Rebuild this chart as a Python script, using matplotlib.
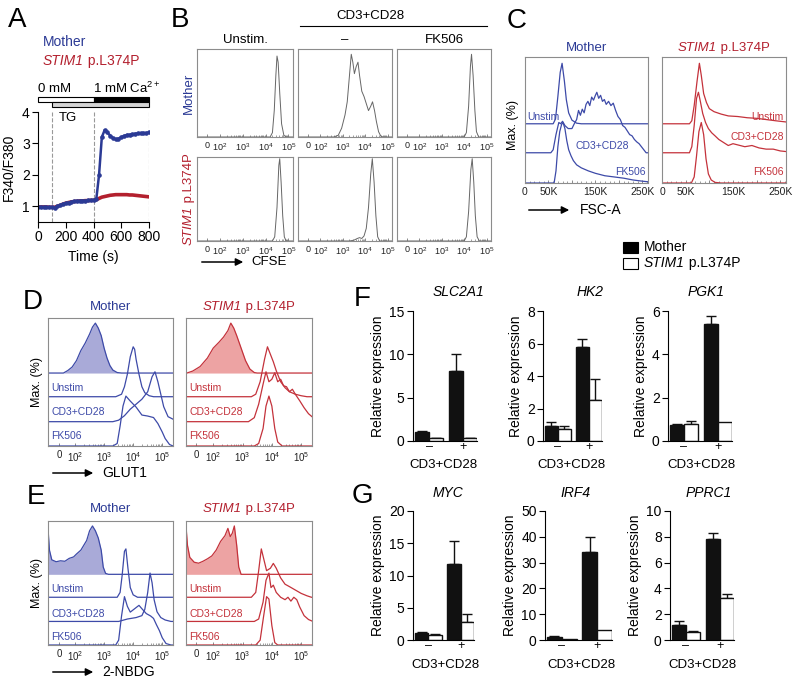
import numpy as np
import matplotlib
matplotlib.use("Agg")
import matplotlib.pyplot as plt
from matplotlib.patches import Rectangle, FancyArrowPatch
from matplotlib.lines import Line2D

plt.rcParams['font.family'] = ['Liberation Sans', 'DejaVu Sans']
plt.rcParams['mathtext.fontset'] = 'custom'
plt.rcParams['mathtext.rm'] = 'Liberation Sans'
plt.rcParams['mathtext.it'] = 'Liberation Sans:italic'
plt.rcParams['mathtext.bf'] = 'Liberation Sans:bold'

# ---------------- data ----------------
# A: Fura-2 ratio over time
time_s = np.arange(0, 801, 20)
ratio_mother = [0.98, 0.98, 0.97, 0.97, 0.97, 0.97, 0.96, 1.00, 1.04, 1.08, 1.10,
                1.12, 1.14, 1.16, 1.17, 1.17, 1.18, 1.18, 1.19, 1.19, 1.20, 1.22,
                2.00, 3.20, 3.42, 3.35, 3.25, 3.17, 3.13, 3.15, 3.20, 3.24, 3.27,
                3.28, 3.29, 3.31, 3.32, 3.32, 3.33, 3.33, 3.35]
ratio_stim = [0.98, 0.98, 0.98, 0.98, 0.97, 0.97, 0.97, 1.00, 1.03, 1.07, 1.10,
              1.12, 1.14, 1.15, 1.16, 1.17, 1.17, 1.18, 1.18, 1.19, 1.19, 1.21,
              1.25, 1.29, 1.31, 1.33, 1.35, 1.36, 1.37, 1.37, 1.37, 1.37, 1.37,
              1.36, 1.36, 1.35, 1.34, 1.33, 1.32, 1.31, 1.30]
ca_switch = 400        # 0 mM -> 1 mM Ca2+
tg_start = 100
dashed_times = [100, 400, 800]

# B: CFSE histograms (x in log decades, y = fraction of max)
cfse_mother_unstim = [(4.2, 0), (4.3, 0.05), (4.38, 0.3), (4.45, 0.7), (4.5, 0.92), (4.55, 0.85),
                      (4.62, 0.5), (4.7, 0.15), (4.8, 0.02), (4.9, 0)]
cfse_mother_stim = [(2.6, 0), (2.8, 0.02), (2.95, 0.1), (3.1, 0.25), (3.2, 0.4), (3.3, 0.7),
                    (3.38, 0.94), (3.45, 0.85), (3.52, 0.72), (3.6, 0.8), (3.68, 0.85),
                    (3.75, 0.7), (3.85, 0.52), (3.95, 0.46), (4.05, 0.38), (4.15, 0.3),
                    (4.25, 0.35), (4.33, 0.4), (4.42, 0.3), (4.5, 0.18), (4.6, 0.06),
                    (4.7, 0.01), (4.8, 0)]
cfse_mother_fk = [(4.0, 0), (4.1, 0.05), (4.2, 0.35), (4.28, 0.8), (4.33, 0.94), (4.4, 0.7),
                  (4.48, 0.3), (4.55, 0.06), (4.65, 0)]
cfse_stim_unstim = [(4.3, 0), (4.4, 0.05), (4.5, 0.4), (4.58, 0.9), (4.62, 0.98), (4.68, 0.7),
                    (4.75, 0.3), (4.82, 0.05), (4.9, 0)]
cfse_stim_stim = [(3.3, 0), (3.5, 0.01), (3.65, 0.03), (3.75, 0.04), (3.85, 0.03), (3.95, 0.06),
                  (4.05, 0.15), (4.15, 0.4), (4.25, 0.8), (4.32, 0.98), (4.4, 0.7),
                  (4.48, 0.3), (4.56, 0.05), (4.65, 0)]
cfse_stim_fk = [(4.0, 0), (4.1, 0.05), (4.2, 0.35), (4.3, 0.85), (4.36, 0.98), (4.43, 0.7),
                (4.5, 0.3), (4.58, 0.05), (4.68, 0)]

# C: FSC-A histograms (x in thousands)
fsc_mother_unstim = [(60, 0), (65, 0.08), (70, 0.45), (75, 0.85), (79, 1.0), (84, 0.7),
                     (88, 0.4), (93, 0.18), (100, 0.06), (110, 0.01), (120, 0)]
fsc_mother_stim = [(55, 0), (60, 0.05), (66, 0.3), (72, 0.5), (76, 0.48), (80, 0.52), (85, 0.45),
                   (92, 0.4), (100, 0.4), (105, 0.48), (110, 0.55), (114, 0.7), (118, 0.62),
                   (122, 0.72), (126, 0.66), (130, 0.8), (134, 0.85), (138, 0.78), (142, 0.92),
                   (146, 0.87), (150, 0.95), (153, 1.0), (157, 0.9), (161, 0.95), (165, 0.85),
                   (169, 0.88), (173, 0.8), (178, 0.85), (183, 0.78), (188, 0.82), (193, 0.7),
                   (198, 0.6), (203, 0.55), (208, 0.45), (213, 0.42), (218, 0.36), (223, 0.3),
                   (228, 0.28), (233, 0.22), (238, 0.18), (243, 0.15), (248, 0.1),
                   (253, 0.05), (258, 0)]
fsc_mother_fk = [(62, 0), (66, 0.2), (70, 0.6), (74, 0.85), (78, 0.97), (81, 1.0), (85, 0.9),
                 (89, 0.7), (93, 0.55), (98, 0.45), (103, 0.37), (110, 0.3), (120, 0.25),
                 (135, 0.2), (150, 0.16), (170, 0.12), (190, 0.1), (210, 0.08), (230, 0.05),
                 (250, 0.03), (262, 0.02)]
fsc_stim_unstim = [(58, 0), (63, 0.05), (68, 0.3), (74, 0.7), (79, 1.0), (83, 0.8), (88, 0.5),
                   (94, 0.35), (100, 0.25), (110, 0.2), (125, 0.16), (140, 0.13), (160, 0.12),
                   (180, 0.1), (200, 0.09), (220, 0.07), (240, 0.05), (262, 0.03)]
fsc_stim_stim = [(58, 0), (63, 0.1), (68, 0.45), (73, 0.9), (77, 1.0), (81, 0.85), (86, 0.65),
                 (92, 0.5), (98, 0.4), (105, 0.33), (112, 0.28), (120, 0.22), (130, 0.17),
                 (140, 0.12), (150, 0.15), (160, 0.13), (175, 0.1), (190, 0.12), (205, 0.08),
                 (220, 0.06), (235, 0.06), (250, 0.03), (262, 0.02)]
fsc_stim_fk = [(62, 0), (68, 0.1), (73, 0.45), (78, 0.85), (83, 1.0), (88, 0.8), (93, 0.4),
               (98, 0.15), (104, 0.05), (112, 0.01), (125, 0)]

# D: GLUT1 histograms (x in log decades)
glut_mother_iso = [(1.6, 0), (1.75, 0.05), (1.9, 0.12), (2.05, 0.25), (2.2, 0.45), (2.35, 0.6),
                   (2.5, 0.78), (2.6, 0.92), (2.7, 1.0), (2.8, 0.9), (2.9, 0.75), (3.0, 0.5),
                   (3.1, 0.3), (3.2, 0.15), (3.3, 0.06), (3.45, 0.01), (3.6, 0)]
glut_mother_unstim = [(3.4, 0), (3.6, 0.05), (3.7, 0.2), (3.8, 0.45), (3.9, 0.8), (4.0, 1.0),
                      (4.05, 0.95), (4.1, 0.75), (4.2, 0.45), (4.3, 0.2), (4.4, 0.08),
                      (4.55, 0.02), (4.7, 0)]
glut_mother_stim = [(3.3, 0), (3.5, 0.03), (3.7, 0.12), (3.9, 0.25), (4.1, 0.35), (4.3, 0.45),
                    (4.5, 0.6), (4.65, 0.9), (4.75, 1.0), (4.85, 0.8), (4.95, 0.55),
                    (5.05, 0.3), (5.2, 0.1), (5.37, 0.05)]
glut_mother_fk = [(3.3, 0), (3.45, 0.05), (3.55, 0.4), (3.65, 0.8), (3.75, 1.0), (3.9, 0.9),
                  (4.1, 0.78), (4.3, 0.62), (4.5, 0.6), (4.7, 0.57), (4.85, 0.45), (5.0, 0.28),
                  (5.1, 0.15), (5.25, 0.03), (5.37, 0)]
glut_stim_iso = [(1.1, 0), (1.3, 0.04), (1.55, 0.13), (1.8, 0.3), (2.0, 0.5), (2.2, 0.62),
                 (2.35, 0.72), (2.5, 0.85), (2.6, 1.0), (2.7, 0.9), (2.8, 0.75), (2.95, 0.5),
                 (3.1, 0.25), (3.25, 0.08), (3.4, 0.01), (3.5, 0)]
glut_stim_unstim = [(3.3, 0), (3.45, 0.05), (3.6, 0.3), (3.75, 0.75), (3.85, 1.0), (3.95, 0.85),
                    (4.05, 0.7), (4.15, 0.52), (4.3, 0.3), (4.45, 0.18), (4.6, 0.1),
                    (4.8, 0.05), (5.0, 0.02), (5.2, 0)]
glut_stim_stim = [(3.2, 0), (3.4, 0.08), (3.55, 0.35), (3.7, 0.75), (3.8, 1.0), (3.9, 0.8),
                  (4.0, 0.85), (4.1, 0.98), (4.2, 0.8), (4.3, 0.85), (4.4, 0.72), (4.5, 0.7),
                  (4.6, 0.6), (4.7, 0.65), (4.8, 0.55), (4.95, 0.42), (5.1, 0.28),
                  (5.25, 0.16), (5.37, 0.1)]
glut_stim_fk = [(3.4, 0), (3.55, 0.05), (3.7, 0.35), (3.8, 0.8), (3.9, 1.0), (4.0, 0.8),
                (4.1, 0.35), (4.2, 0.08), (4.35, 0)]

# E: 2-NBDG histograms (x in log decades)
nbdg_mother_iso = [(1.07, 0.95), (1.12, 0.5), (1.2, 0.3), (1.35, 0.26), (1.5, 0.28), (1.65, 0.27),
                   (1.8, 0.33), (1.95, 0.36), (2.05, 0.42), (2.2, 0.5), (2.3, 0.6), (2.4, 0.7),
                   (2.5, 0.9), (2.6, 1.0), (2.7, 0.9), (2.8, 0.75), (2.9, 0.5), (2.97, 0.15),
                   (3.05, 0.02), (3.15, 0)]
nbdg_mother_unstim = [(3.45, 0), (3.55, 0.1), (3.62, 0.45), (3.7, 0.95), (3.75, 1.0), (3.82, 0.6),
                      (3.9, 0.2), (4.0, 0.05), (4.15, 0)]
nbdg_mother_stim = [(3.5, 0), (3.8, 0.05), (4.1, 0.08), (4.3, 0.12), (4.4, 0.25), (4.5, 0.6),
                    (4.58, 1.0), (4.65, 0.8), (4.72, 0.45), (4.82, 0.2), (4.95, 0.08),
                    (5.1, 0.03), (5.3, 0)]
nbdg_mother_fk = [(3.4, 0), (3.5, 0.1), (3.6, 0.6), (3.7, 1.0), (3.8, 0.8), (3.9, 0.68),
                  (4.05, 0.75), (4.2, 0.82), (4.3, 0.75), (4.45, 0.65), (4.6, 0.6), (4.7, 0.55),
                  (4.8, 0.42), (4.9, 0.3), (5.0, 0.15), (5.13, 0.03), (5.3, 0)]
nbdg_stim_iso = [(1.07, 1.0), (1.12, 0.6), (1.2, 0.35), (1.35, 0.25), (1.5, 0.23), (1.65, 0.27),
                 (1.8, 0.32), (1.95, 0.38), (2.1, 0.5), (2.25, 0.68), (2.4, 0.8), (2.5, 0.95),
                 (2.58, 0.78), (2.65, 0.85), (2.72, 1.0), (2.8, 0.6), (2.87, 0.15), (2.95, 0)]
nbdg_stim_unstim = [(3.3, 0), (3.45, 0.1), (3.55, 0.55), (3.64, 1.0), (3.72, 0.8), (3.82, 0.55),
                    (3.95, 0.6), (4.05, 0.7), (4.15, 0.6), (4.3, 0.4), (4.45, 0.27), (4.6, 0.22),
                    (4.8, 0.15), (5.0, 0.08), (5.2, 0.03), (5.35, 0)]
nbdg_stim_stim = [(3.4, 0), (3.55, 0.05), (3.7, 0.4), (3.8, 0.85), (3.9, 1.0), (3.97, 0.7),
                  (4.05, 0.75), (4.15, 0.6), (4.3, 0.5), (4.45, 0.45), (4.55, 0.5), (4.65, 0.42),
                  (4.75, 0.5), (4.85, 0.45), (4.95, 0.3), (5.1, 0.12), (5.25, 0.04), (5.4, 0)]
nbdg_stim_fk = [(3.45, 0), (3.6, 0.1), (3.72, 0.6), (3.82, 1.0), (3.9, 0.95), (4.0, 0.4),
                (4.1, 0.05), (4.2, 0)]

# F/G: relative expression, groups = CD3+CD28 (-, +)
groups = ['\u2013', '+']
slc2a1_mother, slc2a1_mother_err = [1.0, 8.1], [0.1, 1.9]
slc2a1_stim, slc2a1_stim_err = [0.35, 0.35], [0.05, 0.05]
hk2_mother, hk2_mother_err = [0.95, 5.8], [0.2, 0.45]
hk2_stim, hk2_stim_err = [0.72, 2.5], [0.2, 1.3]
pgk1_mother, pgk1_mother_err = [0.72, 5.42], [0.05, 0.33]
pgk1_stim, pgk1_stim_err = [0.8, 0.88], [0.12, 0.0]
myc_mother, myc_mother_err = [1.1, 11.8], [0.15, 3.5]
myc_stim, myc_stim_err = [0.75, 2.8], [0.15, 1.3]
irf4_mother, irf4_mother_err = [1.2, 34.0], [0.2, 5.8]
irf4_stim, irf4_stim_err = [0.5, 3.8], [0.0, 0.0]
pprc1_mother, pprc1_mother_err = [1.15, 7.85], [0.35, 0.45]
pprc1_stim, pprc1_stim_err = [0.65, 3.25], [0.07, 0.35]

# ---------------- styling ----------------
W, H = 800, 684
BLUE = '#2b3a95'
RED = '#b3202e'
FBLUE = '#3d4aa8'
FRED = '#c4323b'
FILL_BLUE = '#a9aad8'
FILL_RED = '#eda3a3'
SPINE = '#8c8c8c'

fig = plt.figure(figsize=(W / 100, H / 100), dpi=100)
renderer = fig.canvas.get_renderer()


def rect(x0, y0, x1, y1):
    return [x0 / W, 1 - y1 / H, (x1 - x0) / W, (y1 - y0) / H]


def ftext(x, y, s, **kw):
    kw.setdefault('ha', 'center')
    kw.setdefault('va', 'center')
    return fig.text(x / W, 1 - y / H, s, **kw)


def stim_text(x, y, fs, color, ha='center', vertical=False):
    # italic gene name followed by upright variant, e.g. "STIM1 p.L374P"
    rot = 90 if vertical else 0
    kw = dict(fontsize=fs, color=color, rotation=rot, rotation_mode='anchor',
              ha='left', va='center')
    t1 = fig.text(0, 0, 'STIM1', style='italic', **kw)
    t2 = fig.text(0, 0, ' p.L374P', **kw)
    e1, e2 = t1.get_window_extent(renderer), t2.get_window_extent(renderer)
    if vertical:
        l1, l2 = e1.height, e2.height
    else:
        l1, l2 = e1.width, e2.width
    total = l1 + l2
    start = -total / 2 if ha == 'center' else (-total if ha == 'right' else 0)
    if vertical:
        y0 = (H - y) + start
        t1.set_position((x / W, y0 / H))
        t2.set_position((x / W, (y0 + l1) / H))
    else:
        x0 = x + start
        t1.set_position((x0 / W, 1 - y / H))
        t2.set_position(((x0 + l1) / W, 1 - y / H))


def farrow(x0, x1, y):
    fig.add_artist(FancyArrowPatch((x0 / W, 1 - y / H), (x1 / W, 1 - y / H),
                                   transform=fig.transFigure, arrowstyle='-|>',
                                   mutation_scale=11, lw=1.1, color='k'))


def draw_curve(ax, pts, base, scale, color, xlim, fill=None, lw=0.9):
    x = [p[0] for p in pts]
    y = [p[1] for p in pts]
    if x[0] > xlim[0]:
        x, y = [xlim[0]] + x, [0] + y
    if x[-1] < xlim[1]:
        x, y = x + [xlim[1]], y + [0]
    x = np.array(x)
    y = base + scale * np.array(y)
    if fill is not None:
        ax.fill_between(x, base, y, color=fill, lw=0)
    ax.plot(x, y, color=color, lw=lw)


def flow_axes(r, xlim):
    ax = fig.add_axes(r)
    ax.set_xlim(*xlim)
    ax.set_ylim(0, 1)
    ax.set_yticks([])
    for s in ax.spines.values():
        s.set_color(SPINE)
        s.set_linewidth(0.8)
    ax.tick_params(axis='x', direction='in', length=2.5, width=0.6, color='#777',
                   labelsize=7, pad=3, labelcolor='#222')
    ax.tick_params(axis='x', which='minor', direction='in', length=1.5, width=0.5, color='#777')
    return ax


def log_ticks(ax, zero_pos, fs=7):
    ax.set_xticks([zero_pos, 2, 3, 4, 5])
    ax.set_xticklabels(['0', '10$^2$', '10$^3$', '10$^4$', '10$^5$'], fontsize=fs)
    minors = [d + np.log10(k) for d in (2, 3, 4) for k in range(2, 10)]
    ax.set_xticks(minors, minor=True)


# ---------------- panel letters ----------------
for letter, (x, y) in zip('ABCDEFG', [(17, 20), (180, 20), (517, 21), (33, 302),
                                      (36, 497), (362, 299), (362, 496)]):
    ftext(x, y, letter, fontsize=20)

# ---------------- A ----------------
axA = fig.add_axes(rect(38, 112, 149, 222))
axA.plot(time_s, ratio_stim, color=RED, lw=2.6, solid_capstyle='round')
axA.plot(time_s, ratio_mother, color=BLUE, lw=1.8, marker='o', ms=2.3)
for t in dashed_times:
    axA.axvline(t, color='#999', ls='--', lw=0.8, zorder=0)
axA.set_xlim(0, 800)
axA.set_ylim(0.5, 4)
axA.set_xticks([0, 200, 400, 600, 800])
axA.set_yticks([1, 2, 3, 4])
axA.spines['top'].set_visible(False)
axA.spines['right'].set_visible(False)
axA.tick_params(labelsize=10, length=4, pad=2)
axA.set_ylabel('F340/F380', fontsize=10, labelpad=4)
axA.set_xlabel('Time (s)', fontsize=10, labelpad=4)

axBar = fig.add_axes(rect(38, 97, 149, 107))
axBar.set_xlim(0, 800)
axBar.set_ylim(0, 2)
axBar.axis('off')
axBar.add_patch(Rectangle((0, 1), ca_switch, 1, fc='white', ec='k', lw=0.8, clip_on=False))
axBar.add_patch(Rectangle((ca_switch, 1), 800 - ca_switch, 1, fc='k', ec='k', lw=0.8, clip_on=False))
axBar.add_patch(Rectangle((tg_start, 0), 800 - tg_start, 1, fc='#d4d4d4', ec='k', lw=0.8, clip_on=False))
ftext(38, 89, '0 mM', fontsize=9.5, ha='left')
ftext(93, 88, '1 mM Ca$^{2+}$', fontsize=9.5, ha='left')
ftext(59, 118, 'TG', fontsize=9.5, ha='left')
ftext(43, 42, 'Mother', fontsize=10, ha='left', color=BLUE)
stim_text(43, 61, 10, RED, ha='left')

# ---------------- B ----------------
cfse_xlim = (1.0, 5.2)
b_cols = [(197, 293), (298, 392), (397, 491)]
b_rows = [(49, 137), (157, 241)]
b_curves = [[cfse_mother_unstim, cfse_mother_stim, cfse_mother_fk],
            [cfse_stim_unstim, cfse_stim_stim, cfse_stim_fk]]
for ri, (y0, y1) in enumerate(b_rows):
    for ci, (x0, x1) in enumerate(b_cols):
        ax = flow_axes(rect(x0, y0, x1, y1), cfse_xlim)
        log_ticks(ax, 1.45, fs=6.5)
        draw_curve(ax, b_curves[ri][ci], 0.0, 1.0, '#666', cfse_xlim, lw=0.7)
ftext(245, 40, 'Unstim.', fontsize=9.5)
ftext(345, 40, '\u2013', fontsize=9.5)
ftext(444, 40, 'FK506', fontsize=9.5)
ftext(370, 16, 'CD3+CD28', fontsize=9.5)
fig.add_artist(Line2D([300 / W, 487 / W], [1 - 26 / H, 1 - 26 / H],
                      transform=fig.transFigure, color='k', lw=0.8))
ftext(189, 93, 'Mother', fontsize=9.5, rotation=90, color=BLUE)
stim_text(189, 199, 9.5, RED, vertical=True)
farrow(199, 246, 262)
ftext(251, 262, 'CFSE', fontsize=9.5, ha='left')

# ---------------- C ----------------
fsc_xlim = (0, 262)
c_offsets = [0.47, 0.24, 0.0]
c_scale = 0.48
for (x0, x1), curves, col, is_mother in [
        ((525, 648), [fsc_mother_unstim, fsc_mother_stim, fsc_mother_fk], FBLUE, True),
        ((662, 786), [fsc_stim_unstim, fsc_stim_stim, fsc_stim_fk], FRED, False)]:
    ax = flow_axes(rect(x0, 57, x1, 183), fsc_xlim)
    ax.set_xticks([0, 50, 100, 150, 200, 250])
    ax.set_xticklabels(['0', '50K', '', '150K', '', '250K'], fontsize=7.5)
    ax.set_xticks(np.arange(10, 262, 10), minor=True)
    for pts, off in zip(curves, c_offsets):
        draw_curve(ax, pts, off, c_scale, col, fsc_xlim)
    if is_mother:
        ftext((x0 + x1) / 2, 48, 'Mother', fontsize=9.5, color=BLUE)
    else:
        stim_text((x0 + x1) / 2, 48, 9.5, RED)
ftext(527, 117, 'Unstim', fontsize=7.5, ha='left', color=FBLUE)
ftext(602, 146, 'CD3+CD28', fontsize=7.5, color=FBLUE)
ftext(646, 172, 'FK506', fontsize=7.5, ha='right', color=FBLUE)
ftext(784, 117, 'Unstim', fontsize=7.5, ha='right', color=FRED)
ftext(784, 137, 'CD3+CD28', fontsize=7.5, ha='right', color=FRED)
ftext(784, 172, 'FK506', fontsize=7.5, ha='right', color=FRED)
ftext(513, 125, 'Max. (%)', fontsize=9, rotation=90)
farrow(526, 572, 210)
ftext(580, 210, 'FSC-A', fontsize=10, ha='left')

# legend for F/G
fig.add_artist(Rectangle((623 / W, 1 - 253 / H), 15 / W, 11 / H, transform=fig.transFigure,
                         fc='k', ec='k', lw=0.8))
fig.add_artist(Rectangle((623 / W, 1 - 269 / H), 15 / W, 11 / H, transform=fig.transFigure,
                         fc='white', ec='k', lw=0.8))
ftext(644, 247, 'Mother', fontsize=10, ha='left')
stim_text(644, 263, 10, 'k', ha='left')

# ---------------- D / E ----------------
log_xlim = (1.07, 5.37)
de_offsets = [0.57, 0.385, 0.19, 0.0]
de_scale = 0.39


def flow_pair(y0, y1, title_y, mother_curves, stim_curves, label_ys, xlab, xlab_y):
    for (x0, x1), curves, col, fill, is_mother, lx, zero in [
            ((48, 173), mother_curves, FBLUE, FILL_BLUE, True, 51, 1.45),
            ((186, 312), stim_curves, FRED, FILL_RED, False, 189, 1.42)]:
        ax = flow_axes(rect(x0, y0, x1, y1), log_xlim)
        log_ticks(ax, zero, fs=7)
        for i, (pts, off) in enumerate(zip(curves, de_offsets)):
            draw_curve(ax, pts, off, de_scale, col, log_xlim,
                       fill=fill if i == 0 else None)
        if is_mother:
            ftext((x0 + x1) / 2, title_y, 'Mother', fontsize=9.5, color=BLUE)
        else:
            stim_text((x0 + x1) / 2, title_y, 9.5, RED)
        for lab, ly in zip(['Unstim', 'CD3+CD28', 'FK506'], label_ys):
            ftext(lx, ly, lab, fontsize=7.5, ha='left', color=col)
    ftext(37, (y0 + y1) / 2, 'Max. (%)', fontsize=9, rotation=90)
    farrow(50, 96, xlab_y)
    ftext(102, xlab_y, xlab, fontsize=10, ha='left')


flow_pair(318, 446, 307,
          [glut_mother_iso, glut_mother_unstim, glut_mother_stim, glut_mother_fk],
          [glut_stim_iso, glut_stim_unstim, glut_stim_stim, glut_stim_fk],
          [388, 412, 436], 'GLUT1', 473)
flow_pair(521, 645, 509,
          [nbdg_mother_iso, nbdg_mother_unstim, nbdg_mother_stim, nbdg_mother_fk],
          [nbdg_stim_iso, nbdg_stim_unstim, nbdg_stim_stim, nbdg_stim_fk],
          [589, 614, 637], '2-NBDG', 672)

# ---------------- F / G ----------------


def bar_panel(r, mother, mother_err, stim, stim_err, ylim, yticks, title, title_xy, cd_xy):
    ax = fig.add_axes(r)
    centers = np.array([0.0, 0.72])
    w = 0.3
    ax.bar(centers - w / 2, mother, w, color='#111', edgecolor='#111', lw=1, zorder=2)
    ax.bar(centers + w / 2, stim, w, color='white', edgecolor='#111', lw=1, zorder=2)
    for xs, vals, errs in [(centers - w / 2, mother, mother_err), (centers + w / 2, stim, stim_err)]:
        for xv, v, e in zip(xs, vals, errs):
            if e > 0:
                ax.errorbar(xv, v, yerr=[[0], [e]], fmt='none', ecolor='#111',
                            elinewidth=1, capsize=3.5, capthick=1, zorder=1)
    ax.set_xlim(-0.34, 1.02)
    ax.set_ylim(*ylim)
    ax.set_yticks(yticks)
    ax.set_xticks(centers)
    ax.set_xticklabels(groups, fontsize=9)
    ax.tick_params(axis='x', length=0, pad=0)
    ax.tick_params(axis='y', labelsize=10, length=4, pad=2)
    ax.spines['top'].set_visible(False)
    ax.spines['right'].set_visible(False)
    ax.set_ylabel('Relative expression', fontsize=10, labelpad=3)
    ftext(*title_xy, title, fontsize=10, style='italic')
    ftext(*cd_xy, 'CD3+CD28', fontsize=9.5)


bar_panel(rect(413, 311, 477, 441), slc2a1_mother, slc2a1_mother_err, slc2a1_stim, slc2a1_stim_err,
          (0, 15), [0, 5, 10, 15], 'SLC2A1', (458, 292), (443, 465))
bar_panel(rect(543, 311, 602, 441), hk2_mother, hk2_mother_err, hk2_stim, hk2_stim_err,
          (0, 8), [0, 2, 4, 6, 8], 'HK2', (590, 292), (571, 465))
bar_panel(rect(668, 311, 732, 441), pgk1_mother, pgk1_mother_err, pgk1_stim, pgk1_stim_err,
          (0, 6), [0, 2, 4, 6], 'PGK1', (706, 292), (701, 465))
bar_panel(rect(413, 511, 474, 640), myc_mother, myc_mother_err, myc_stim, myc_stim_err,
          (0, 20), [0, 5, 10, 15, 20], 'MYC', (448, 493), (445, 665))
bar_panel(rect(545, 511, 612, 640), irf4_mother, irf4_mother_err, irf4_stim, irf4_stim_err,
          (0, 50), [0, 10, 20, 30, 40, 50], 'IRF4', (576, 493), (581, 665))
bar_panel(rect(670, 511, 734, 640), pprc1_mother, pprc1_mother_err, pprc1_stim, pprc1_stim_err,
          (0, 10), [0, 2, 4, 6, 8, 10], 'PPRC1', (709, 493), (702, 665))

fig.savefig('out.png', dpi=100)
